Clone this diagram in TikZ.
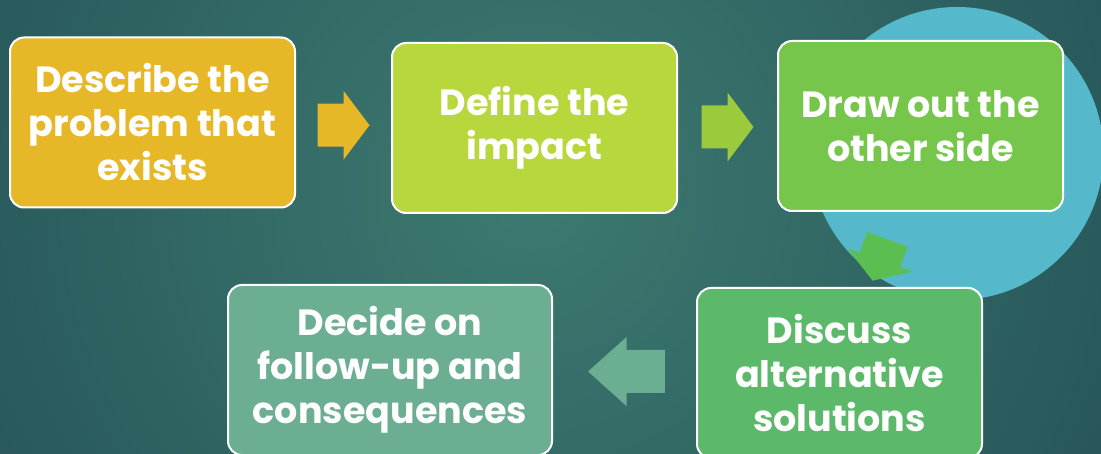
\documentclass[tikz,border=0pt]{standalone}
\usepackage{fontspec}
\setmainfont{Poppins}
\usetikzlibrary{calc}

\definecolor{deep}{HTML}{163B49}
\definecolor{glow}{HTML}{3D7A70}
\definecolor{sky}{HTML}{55B9CB}
\definecolor{gold}{HTML}{E6B828}
\definecolor{lime}{HTML}{B7D73D}
\definecolor{limearrow}{HTML}{9BCB3C}
\definecolor{grass}{HTML}{77C64C}
\definecolor{leaf}{HTML}{5ABE50}
\definecolor{fern}{HTML}{5CB96A}
\definecolor{sea}{HTML}{6BAE91}

\tikzstyle{box}=[draw=white, line width=2pt, rounded corners=14pt,
  minimum width=285pt, minimum height=170pt, inner sep=0pt,
  align=center, text=white, font=\fontsize{36.5}{44}\selectfont\bfseries]
\tikzset{flow/.pic={
  \fill [#1] (-26,-21.5) -- (0,-21.5) -- (0,-34.5) -- (26,0)
    -- (0,34.5) -- (0,21.5) -- (-26,21.5) -- cycle;
}}

\begin{document}
\begin{tikzpicture}[x=1pt,y=-1pt]
\useasboundingbox (0,0) rectangle (1101,454);
\clip (0,0) rectangle (1101,454);
\shade [inner color=glow, outer color=deep] (530,190) circle (1120);
\fill [sky] (957,153.5) circle (146.5);

\node [box, fill=gold] (problem) at (152.5,122.5) {Describe the\\problem that\\exists};
\node [box, fill=lime] (impact) at (534.5,128) {Define the\\impact};
\node [box, fill=grass] (side) at (920.5,126) {Draw out the\\other side};
\node [box, fill=fern] (solutions) at (839.5,373) {Discuss\\alternative\\solutions};
\node [box, fill=sea, minimum width=324pt] (followup) at (390,370) {Decide on\\follow-up and\\consequences};

\pic at ($(problem.east)!0.5!(impact.west)$) {flow=gold};
\pic at ($(impact.east)!0.5!(side.west)$) {flow=limearrow};
\pic [rotate=-109.5, xscale=0.846] at ($(side.south)!0.5!(solutions.north)+(0,10.5)$) {flow=leaf};
\pic [rotate=180, xscale=1.48] at ($(followup.east)!0.5!(solutions.west)+(2,0)$) {flow=sea};
\end{tikzpicture}
\end{document}
